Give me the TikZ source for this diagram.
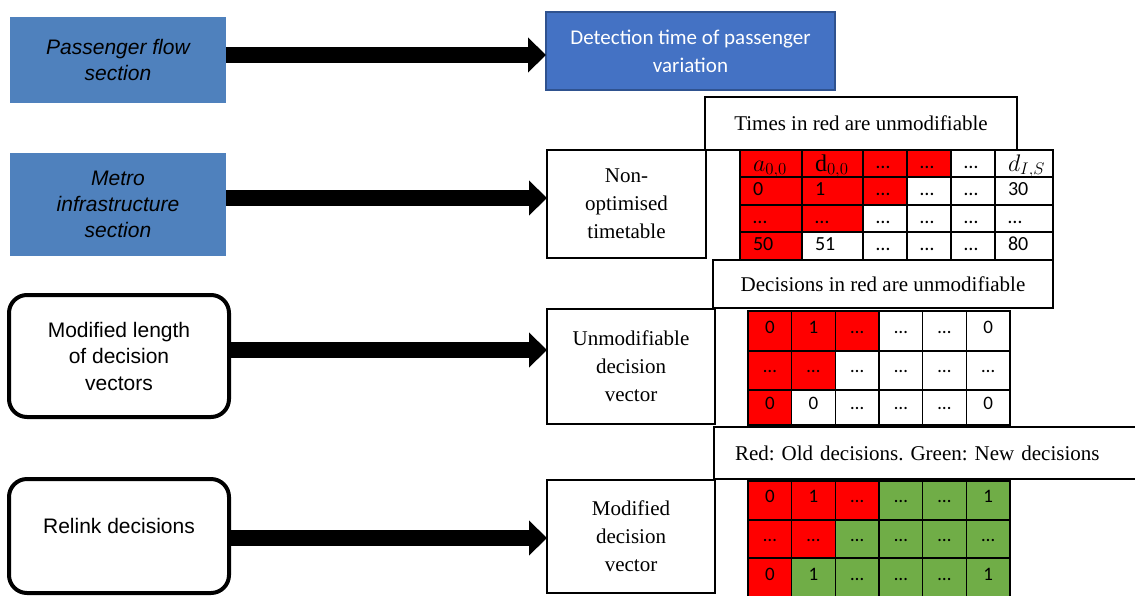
\RequirePackage{fix-cm}
\documentclass[tikz,border=0pt]{standalone}
\usepackage{fontspec}
\setmainfont{Liberation Serif}
\newfontfamily\arialfont{Liberation Sans}
\newfontfamily\calibrifont{Carlito}
\usetikzlibrary{arrows.meta}
\frenchspacing

\definecolor{flowblue}{HTML}{4F81BD}
\definecolor{detblue}{HTML}{4472C4}
\definecolor{detborder}{HTML}{2F528F}
\definecolor{oldred}{HTML}{FF0000}
\definecolor{newgreen}{HTML}{70AD47}

% larger math for the column headings
\newcommand{\hdmath}[1]{\raisebox{-3pt}{\fontsize{24}{24}\selectfont$#1$}}

% one row of the timetable: row index, top, height, entries
\newcommand{\timerow}[4]{%
  \foreach \t [count=\c from 0] in {#4} {%
    \pgfmathsetmacro\xa{{740,802,863,907,951,995,1053}[\c]}%
    \pgfmathsetmacro\xb{{740,802,863,907,951,995,1053}[\c+1]}%
    \pgfmathsetmacro\w{\xb-\xa}%
    \pgfmathsetmacro\tw{\w-26}%
    \ifnum\numexpr\c+#1\relax<4 \def\fc{oldred}\else\def\fc{white}\fi
    \node[tcell, fill=\fc, minimum width=\w pt, text width=\tw pt,
          minimum height=#3pt] (t1-#1-\c) at (\xa,#2) {\t};
  }%
}
% one row of a decision vector: prefix, row index, top, height, later colour, entries
\newcommand{\decrow}[6]{%
  \foreach \t [count=\c from 0] in {#6} {%
    \ifnum\numexpr\c+#2\relax<3 \def\fc{oldred}\else\def\fc{#5}\fi
    \node[vcell, fill=\fc, minimum height=#4pt] (#1-#2-\c) at ({748+\c*43.67},#3) {\t};
  }%
}

\begin{document}
\begin{tikzpicture}[x=1pt,y=-1pt,
  every node/.style={outer sep=0pt},
  section/.style={fill=flowblue, anchor=north west, inner sep=0pt, align=center,
    minimum width=216pt, font=\arialfont\itshape\fontsize{21}{26}\selectfont},
  detect/.style={fill=detblue, draw=detborder, line width=1.5pt, anchor=north west,
    inner sep=0pt, align=center, text=white,
    font=\calibrifont\fontsize{21}{28}\selectfont},
  serifbox/.style={draw, line width=1.5pt, fill=white, anchor=north west, inner sep=0pt,
    align=center, font=\fontsize{21}{28}\selectfont},
  roundbox/.style={draw, line width=4pt, rounded corners=18pt, anchor=north west,
    inner sep=0pt, align=center, minimum width=220pt,
    font=\arialfont\fontsize{21}{26.5}\selectfont},
  bigarrow/.style={line width=16pt, -{Triangle[length=18pt,width=34pt]}},
  tcell/.style={draw, line width=1.5pt, anchor=north west, inner xsep=13pt, inner ysep=0pt,
    align=left, text height=14pt, text depth=5pt,
    font=\calibrifont\fontsize{20}{20}\selectfont},
  vcell/.style={draw, line width=1.5pt, anchor=north west, inner sep=0pt,
    minimum width=43.67pt, text height=12pt, text depth=8pt,
    font=\calibrifont\fontsize{19}{19}\selectfont}
]
\useasboundingbox (0,0) rectangle (1135,595);

% left column: inputs
\node[section, minimum height=86pt] (pf) at (10,17) {Passenger flow\\section};
\node[section, minimum height=103pt] (mi) at (10,153) {Metro\\infrastructure\\section};
\node[roundbox, minimum height=122pt] (ml) at (9,295) {Modified length\\of decision\\vectors};
\node[roundbox, minimum height=114pt] (rl) at (9,479) {};
\node[font=\arialfont\fontsize{21}{26.5}\selectfont] (rltext) at ([yshift=10pt]rl.center) {Relink decisions};

% middle column: results
\node[detect, minimum width=289pt, minimum height=78pt] (det) at (546,12)
  {Detection time of passenger\\variation};
\node[serifbox, minimum width=159pt, minimum height=108pt] (nt) at (547,150)
  {Non-\\optimised\\timetable};
\node[serifbox, minimum width=168pt, minimum height=115pt] (ud) at (547,309)
  {Unmodifiable\\decision\\vector};
\node[serifbox, minimum width=168pt, minimum height=113pt] (md) at (547,480)
  {Modified\\decision\\vector};

% captions above the tables
\node[serifbox, minimum width=312pt, minimum height=53pt] (cap1) at (705,97)
  {Times in red are unmodifiable};
\node[serifbox, minimum width=340pt, minimum height=48pt] (cap2) at (713,260)
  {Decisions in red are unmodifiable};
\node[serifbox, minimum width=431pt, minimum height=52pt, text width=389pt,
  inner xsep=21pt, align=left] (cap3) at (714,427)
  {Red: Old decisions. Green: New decisions};

% block arrows
\coordinate (y1) at (0,55);
\coordinate (y2) at (0,198);
\coordinate (y3) at (0,350);
\coordinate (y4) at (0,538);
\draw[bigarrow] (pf.east |- y1) -- (det.west |- y1);
\draw[bigarrow] (mi.east |- y2) -- (nt.west |- y2);
\draw[bigarrow] (ml.east |- y3) -- (ud.west |- y3);
\draw[bigarrow] (rl.east |- y4) -- (md.west |- y4);

% timetable
\timerow{0}{150}{27}{{\hdmath{a_{0,0}}},{\hdmath{\mathrm{d}_{0,0}}},…,…,…,{\hdmath{d_{I,S}}}}
\timerow{1}{177}{28}{0,1,…,…,…,30}
\timerow{2}{205}{27}{…,…,…,…,…,…}
\timerow{3}{232}{28}{50,51,…,…,…,80}

% unmodifiable decision vector
\decrow{t2}{0}{311}{40}{white}{0,1,…,…,…,0}
\decrow{t2}{1}{351}{39}{white}{…,…,…,…,…,…}
\decrow{t2}{2}{390}{35}{white}{0,0,…,…,…,0}

% modified decision vector
\decrow{t3}{0}{481}{39}{newgreen}{0,1,…,…,…,1}
\decrow{t3}{1}{520}{38}{newgreen}{…,…,…,…,…,…}
\decrow{t3}{2}{558}{40}{newgreen}{0,1,…,…,…,1}
\end{tikzpicture}
\end{document}
